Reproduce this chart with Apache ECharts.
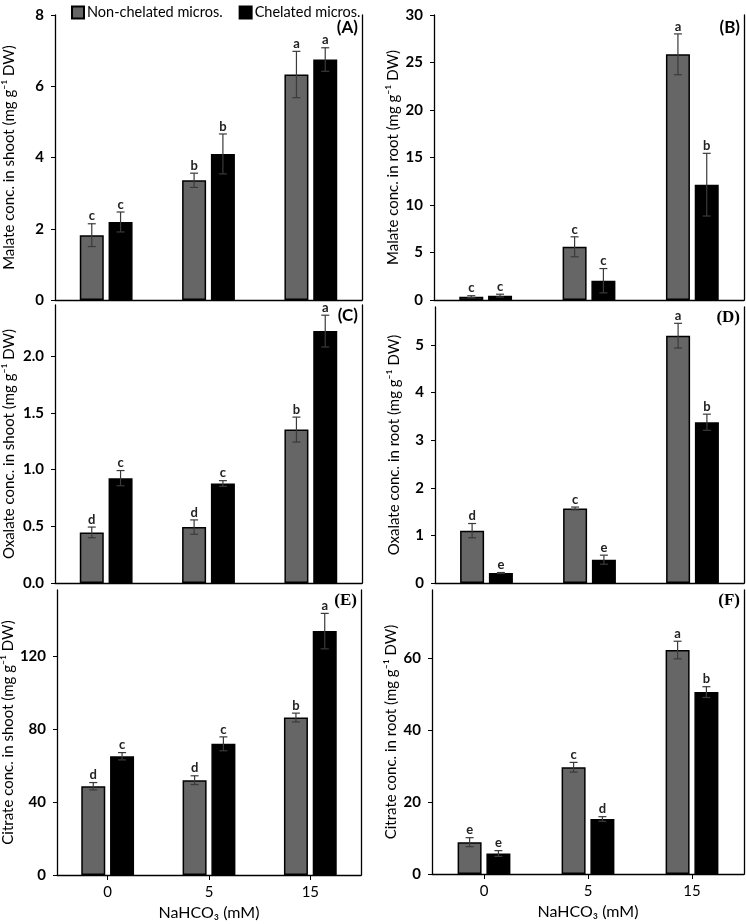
<!DOCTYPE html>
<html>
<head>
<meta charset="utf-8">
<script src="https://cdn.jsdelivr.net/npm/echarts@6/dist/echarts.min.js"></script>
<style>
html, body { margin: 0; padding: 0; background: #fff; }
#main { width: 746px; height: 924px; }
</style>
</head>
<body>
<div id="main"></div>
<script>
// categories + legend names
var doses = ['0', '5', '15'];
var nameNon = 'Non-chelated micros.', nameChe = 'Chelated micros.';

// (A) malate in shoot
var malateShootNon = [1.82, 3.36, 6.33], malateShootNonErr = [0.32, 0.20, 0.65], malateShootNonLet = ['c', 'b', 'a'];
var malateShootChe = [2.19, 4.10, 6.75], malateShootCheErr = [0.28, 0.56, 0.33], malateShootCheLet = ['c', 'b', 'a'];
// (B) malate in root
var malateRootNon = [0.35, 5.6, 25.86], malateRootNonErr = [0.10, 1.05, 2.15], malateRootNonLet = ['c', 'c', 'a'];
var malateRootChe = [0.46, 2.03, 12.14], malateRootCheErr = [0.15, 1.28, 3.3], malateRootCheLet = ['c', 'c', 'b'];
// (C) oxalate in shoot
var oxalateShootNon = [0.446, 0.493, 1.352], oxalateShootNonErr = [0.047, 0.063, 0.11], oxalateShootNonLet = ['d', 'd', 'b'];
var oxalateShootChe = [0.924, 0.877, 2.22], oxalateShootCheErr = [0.067, 0.025, 0.14], oxalateShootCheLet = ['c', 'c', 'a'];
// (D) oxalate in root
var oxalateRootNon = [1.10, 1.566, 5.197], oxalateRootNonErr = [0.15, 0.03, 0.26], oxalateRootNonLet = ['d', 'c', 'a'];
var oxalateRootChe = [0.21, 0.49, 3.378], oxalateRootCheErr = [0.01, 0.095, 0.17], oxalateRootCheLet = ['e', 'e', 'b'];
// (E) citrate in shoot
var citrateShootNon = [48.6, 51.9, 86.2], citrateShootNonErr = [2.0, 2.4, 2.4], citrateShootNonLet = ['d', 'd', 'b'];
var citrateShootChe = [65.0, 71.8, 133.5], citrateShootCheErr = [2.0, 3.8, 9.7], citrateShootCheLet = ['c', 'c', 'a'];
// (F) citrate in root
var citrateRootNon = [8.85, 29.7, 62.3], citrateRootNonErr = [1.25, 1.35, 2.45], citrateRootNonLet = ['e', 'c', 'a'];
var citrateRootChe = [5.7, 15.3, 50.6], citrateRootCheErr = [0.8, 0.65, 1.5], citrateRootCheLet = ['e', 'd', 'b'];

var FONT = 'Lato, "Open Sans", sans-serif';
var GRAY = '#666666';
var BAR_W = 24, GAP = 4.8;

var panels = [
    { tag: '(A)', serif: false, yName: 'Malate conc. in shoot (mg g\u207B\u00B9 DW)', grid: { left: 55, top: 15, width: 307, height: 285 }, max: 8, interval: 2, dec: 0, nameGap: 38,
      non: [malateShootNon, malateShootNonErr, malateShootNonLet], che: [malateShootChe, malateShootCheErr, malateShootCheLet] },
    { tag: '(B)', serif: false, yName: 'Malate conc. in root (mg g\u207B\u00B9 DW)', grid: { left: 434, top: 15, width: 310, height: 285 }, max: 30, interval: 5, dec: 0, nameGap: 33,
      non: [malateRootNon, malateRootNonErr, malateRootNonLet], che: [malateRootChe, malateRootCheErr, malateRootCheLet] },
    { tag: '(C)', serif: false, yName: 'Oxalate conc. in shoot (mg g\u207B\u00B9 DW)', grid: { left: 55, top: 305, width: 307, height: 278 }, max: 2.45, interval: 0.5, dec: 1, nameGap: 38,
      non: [oxalateShootNon, oxalateShootNonErr, oxalateShootNonLet], che: [oxalateShootChe, oxalateShootCheErr, oxalateShootCheLet] },
    { tag: '(D)', serif: true, yName: 'Oxalate conc. in root (mg g\u207B\u00B9 DW)', grid: { left: 435, top: 307, width: 309, height: 276 }, max: 5.8, interval: 1, dec: 0, nameGap: 33,
      non: [oxalateRootNon, oxalateRootNonErr, oxalateRootNonLet], che: [oxalateRootChe, oxalateRootCheErr, oxalateRootCheLet] },
    { tag: '(E)', serif: true, yName: 'Citrate conc. in shoot (mg g\u207B\u00B9 DW)', grid: { left: 53, top: 590, width: 308, height: 285 }, max: 156, interval: 40, dec: 0, nameGap: 38,
      non: [citrateShootNon, citrateShootNonErr, citrateShootNonLet], che: [citrateShootChe, citrateShootCheErr, citrateShootCheLet] },
    { tag: '(F)', serif: true, yName: 'Citrate conc. in root (mg g\u207B\u00B9 DW)', grid: { left: 432, top: 590, width: 312, height: 284 }, max: 79, interval: 20, dec: 0, nameGap: 33,
      non: [citrateRootNon, citrateRootNonErr, citrateRootNonLet], che: [citrateRootChe, citrateRootCheErr, citrateRootCheLet] }
];

//误差线 + 字母
function errRender(lets, shift) {
    return function (params, api) {
        var c = api.value(0), v = api.value(1), e = api.value(2);
        var hi = api.coord([c, v + e]);
        var lo = api.coord([c, v - e]);
        var x = hi[0] + shift, cap = 4;
        var st = { stroke: '#3a3a3a', lineWidth: 1.2 };
        return {
            type: 'group',
            children: [
                { type: 'line', shape: { x1: x, y1: hi[1], x2: x, y2: lo[1] }, style: st },
                { type: 'line', shape: { x1: x - cap, y1: hi[1], x2: x + cap, y2: hi[1] }, style: st },
                { type: 'line', shape: { x1: x - cap, y1: lo[1], x2: x + cap, y2: lo[1] }, style: st },
                { type: 'text', x: x, y: hi[1] - 1, style: { text: lets[params.dataIndex], align: 'center', verticalAlign: 'bottom', fill: '#222', font: 'bold 13px ' + FONT } }
            ]
        };
    };
}

var grids = [], xAxes = [], yAxes = [], series = [], graphics = [];

panels.forEach(function (p, k) {
    var bottomRow = k >= 4;
    grids.push(p.grid);
    xAxes.push({
        type: 'category', gridIndex: k, data: doses,
        axisLine: { lineStyle: { color: '#000', width: 1.3 } },
        axisTick: { show: bottomRow, alignWithLabel: true, length: 5, lineStyle: { color: '#000' } },
        axisLabel: { show: bottomRow, color: '#000', fontSize: 15, margin: 10, fontFamily: FONT },
        name: bottomRow ? 'NaHCO\u2083 (mM)' : '', nameLocation: 'middle', nameGap: 30,
        nameTextStyle: { color: '#000', fontSize: 16, fontFamily: FONT }
    });
    yAxes.push({
        type: 'value', gridIndex: k, min: 0, max: p.max, interval: p.interval,
        splitLine: { show: false },
        axisLine: { show: true, lineStyle: { color: '#000', width: 1.3 } },
        axisTick: { show: true, length: 4, lineStyle: { color: '#000' } },
        axisLabel: { color: '#000', fontSize: 15, fontWeight: 'bold', margin: 11, fontFamily: FONT, showMaxLabel: p.max % p.interval === 0,
            formatter: function (v) { return v.toFixed(p.dec); } },
        name: p.yName, nameLocation: 'middle', nameGap: p.nameGap,
        nameTextStyle: { color: '#000', fontSize: 15, fontFamily: FONT }
    });
    // right border line
    yAxes.push({
        type: 'value', gridIndex: k, position: 'right', min: 0, max: p.max,
        splitLine: { show: false }, axisTick: { show: false }, axisLabel: { show: false },
        axisLine: { show: true, lineStyle: { color: '#000', width: 1.3 } }
    });

    var sets = [[nameNon, GRAY, p.non, -(BAR_W + GAP) / 2], [nameChe, '#000', p.che, (BAR_W + GAP) / 2]];
    sets.forEach(function (s) {
        series.push({
            name: s[0], type: 'bar', xAxisIndex: k, yAxisIndex: 2 * k,
            data: s[2][0], barWidth: BAR_W, barGap: '20%',
            itemStyle: { color: s[1], borderColor: '#000', borderWidth: 1.5 }
        });
    });
    sets.forEach(function (s) {
        series.push({
            type: 'custom', xAxisIndex: k, yAxisIndex: 2 * k, z: 5, clip: false,
            renderItem: errRender(s[2][2], s[3]),
            data: s[2][0].map(function (v, i) { return [i, v, s[2][1][i]]; })
        });
    });

    graphics.push({
        type: 'text', right: 746 - (p.grid.left + p.grid.width) + 4, top: p.grid.top + (k < 2 ? 4 : 2),
        style: { text: p.tag, fill: '#000',
            font: 'bold 17px ' + (p.serif ? '"Liberation Serif", "DejaVu Serif", serif' : FONT) }
    });
});

var myChart = echarts.init(document.getElementById('main'));
var option = {
    backgroundColor: '#fff',
    animation: false,
    textStyle: { fontFamily: FONT },
    legend: {
        top: 0, left: 66, itemWidth: 12, itemHeight: 12, itemGap: 16,
        icon: 'rect',
        data: [nameNon, nameChe],
        textStyle: { color: '#000', fontSize: 14.5, fontFamily: FONT, padding: [0, 0, 0, -2] }
    },
    grid: grids,
    xAxis: xAxes,
    yAxis: yAxes,
    series: series,
    graphic: graphics
};
myChart.setOption(option);
</script>
</body>
</html>
